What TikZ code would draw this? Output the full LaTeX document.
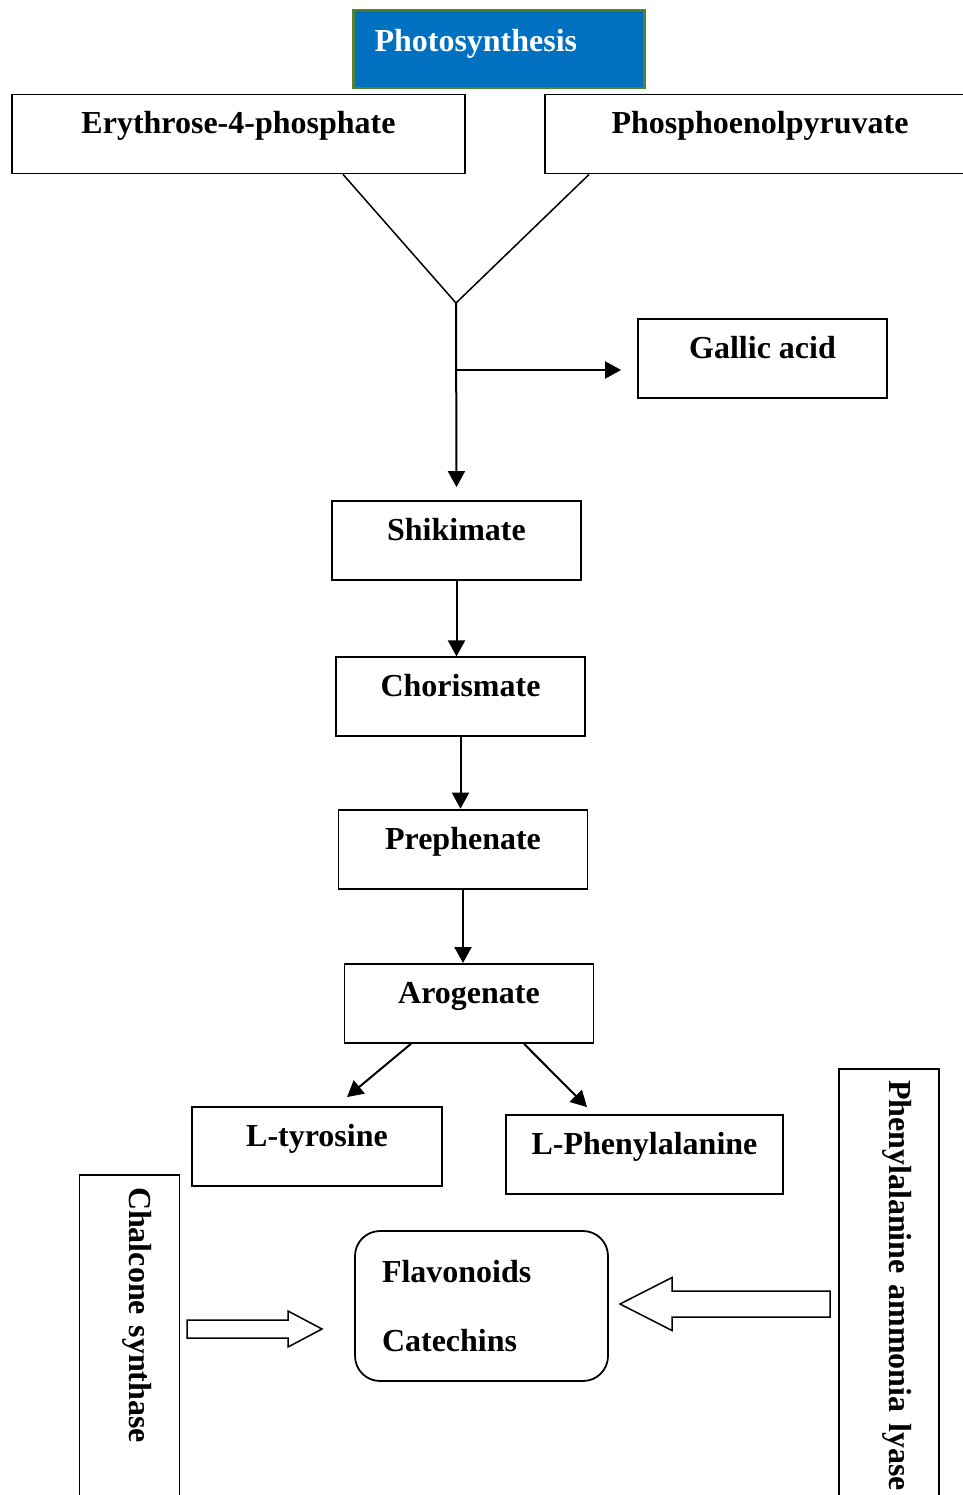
\documentclass[tikz,border=0pt]{standalone}
\usepackage{fontspec}
\setmainfont{Liberation Serif}
\usetikzlibrary{arrows.meta, positioning}
\definecolor{psblue}{HTML}{0070C0}
\definecolor{psgreen}{HTML}{548235}

\begin{document}
\begin{tikzpicture}[
    x=1pt, y=-1pt,
    node distance=75pt,
    every node/.style={font=\fontsize{32}{38}\selectfont\bfseries},
    pbox/.style   ={rectangle, draw=black, line width=1.8pt, minimum width=249pt,
                    minimum height=79pt, text height=22pt, text depth=22pt, align=center},
    title/.style  ={rectangle, draw=psgreen, line width=2.5pt, fill=psblue, text=white,
                    text width=249pt, inner xsep=21pt, align=left, minimum height=78pt,
                    text height=25pt, text depth=19pt},
    enzyme/.style ={rectangle, draw=black, line width=1.8pt, rotate=-90, minimum height=100pt,
                    align=left, text height=22pt, text depth=22pt},
    product/.style={rectangle, rounded corners=25pt, draw=black, line width=1.8pt,
                    minimum width=253pt, minimum height=150pt, text width=199pt, inner xsep=27pt,
                    align=left, font=\fontsize{32}{69}\selectfont\bfseries},
    arr/.style    ={-{Triangle[length=16pt, width=17pt]}, line width=2pt},
    hollow/.style ={draw=black, line width=1.5pt, fill=white},
]
\useasboundingbox (0,0) rectangle (962,1495);

% ── Top: source and precursors ───────────────────────────────
\node[title] (photo) at (499,49) {Photosynthesis};
\node[pbox, minimum width=453pt] (ery) at (238.5,134) {Erythrose-4-phosphate};
\node[pbox, minimum width=430pt] (pep) at (760,134)   {Phosphoenolpyruvate};
\node[pbox] (gallic) at (762.5,358.5) {Gallic acid};

% ── Main column ──────────────────────────────────────────────
\node[pbox] (shik) at (456.5,540.5) {Shikimate};
\node[pbox, below=75.5pt of shik, xshift=4pt]    (chor)  {Chorismate};
\node[pbox, below=71.5pt of chor, xshift=2.5pt]  (preph) {Prephenate};
\node[pbox, below=73.5pt of preph, xshift=6pt]   (arog)  {Arogenate};

% ── Amino acids ──────────────────────────────────────────────
\node[pbox, minimum width=250pt] (tyr) at (317,1146.5)   {L-tyrosine};
\node[pbox, minimum width=277pt] (phe) at (644.5,1154.5) {L-Phenylalanine};

% ── Enzymes and products ─────────────────────────────────────
\node[enzyme, text width=336pt, inner xsep=12pt] (chs) at (129.5,1355) {Chalcone synthase};
\node[enzyme, text width=444pt, inner xsep=11pt] (pal) at (889,1302)   {Phenylalanine ammonia lyase};
\node[product] (flav) at (481.5,1306) {Flavonoids\\Catechins};

% ── Merge of the two precursors ──────────────────────────────
\coordinate (merge) at (456,303);
\coordinate (split) at (456,370);
\coordinate (gin)   at ([xshift=-16pt]gallic.west);
\draw[line width=1.5pt] ([xshift=104.5pt]ery.south) -- (merge) -- ([xshift=45pt]pep.south west);
\draw[arr] (merge) -- ([yshift=13pt]shik.north);
\draw[arr] (split) -- (gin |- split);

% ── Main-column arrows ───────────────────────────────────────
\draw[arr] (shik.south)  -- (shik.south |- chor.north);
\draw[arr] (chor.south)  -- (chor.south |- preph.north);
\draw[arr] (preph.south) -- (preph.south |- arog.north);
\draw[arr] ([xshift=-58pt]arog.south) -- ([xshift=30pt, yshift=9pt]tyr.north);
\draw[arr] ([xshift=55pt]arog.south)  -- ([xshift=-57.5pt, yshift=7pt]phe.north);

% ── Hollow block arrows into the products ────────────────────
\coordinate (chsout) at (187,1329);
\coordinate (palout) at (830,1304);
\draw[hollow] (chsout) ++(0,-9) -- ++(101,0) -- ++(0,-9) -- ++(34,18) -- ++(-34,18)
    -- ++(0,-9) -- ++(-101,0) -- cycle;
\draw[hollow] (palout) ++(0,-13) -- ++(-158,0) -- ++(0,-13.5) -- ++(-52,26.5) -- ++(52,26.5)
    -- ++(0,-13.5) -- ++(158,0) -- cycle;

\end{tikzpicture}
\end{document}
